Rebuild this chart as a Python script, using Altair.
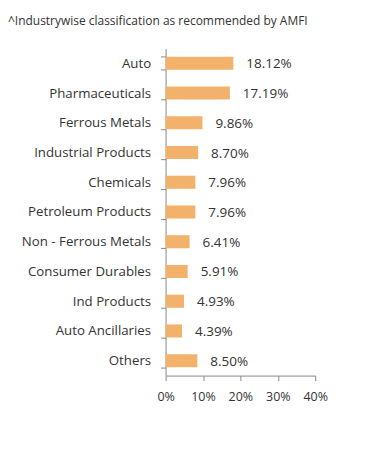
import altair as alt
import pandas as pd

categories = ["Auto", "Pharmaceuticals", "Ferrous Metals", "Industrial Products",
              "Chemicals", "Petroleum Products", "Non - Ferrous Metals",
              "Consumer Durables", "Ind Products", "Auto Ancillaries", "Others"]
values = [18.12, 17.19, 9.86, 8.70, 7.96, 7.96, 6.41, 5.91, 4.93, 4.39, 8.50]
x_ticks = [0, 10, 20, 30, 40]

df = pd.DataFrame({"cat": categories, "val": values})
df["label"] = [f"{v:.2f}%" for v in values]

FONT = "Open Sans"
y = alt.Y("cat:N", sort=categories, title=None,
          scale=alt.Scale(paddingInner=0.56, paddingOuter=0.28),
          axis=alt.Axis(tickBand="extent", domainColor="#888888", tickColor="#888888",
                        tickSize=5, labelFont=FONT, labelFontSize=13.3,
                        labelColor="#333333", labelPadding=10))
x = alt.X("val:Q", title=None,
          scale=alt.Scale(domain=[0, 40], nice=False),
          axis=alt.Axis(values=x_ticks, labelExpr="datum.value + '%'", grid=False,
                        labelOverlap=False, labelSeparation=0, labelFlush=False,
                        domainColor="#888888", tickColor="#888888", tickSize=5,
                        labelFont=FONT, labelFontSize=12.5, labelColor="#333333",
                        labelPadding=10))

bars = alt.Chart(df).mark_bar(color="#F2B26B").encode(y=y, x=x)
text = alt.Chart(df).mark_text(align="left", baseline="middle", dx=13, dy=1,
                               font=FONT, fontSize=13.5, color="#333333").encode(
    y=y, x=x, text="label:N")

chart = (bars + text).properties(
    width=150, height=328,
    title=alt.TitleParams("^Industrywise classification as recommended by AMFI",
                          anchor="start", frame="group", dx=-158, offset=14,
                          font=FONT, fontSize=12, fontWeight="normal", color="#333333"),
    autosize=alt.AutoSizeParams(type="none"),
    padding={"left": 158, "top": 40, "right": 68, "bottom": 40},
).configure_view(stroke=None).configure_axis(labelOverlap=False)

chart.save("out.html", embed_options={"renderer": "svg", "actions": False})
